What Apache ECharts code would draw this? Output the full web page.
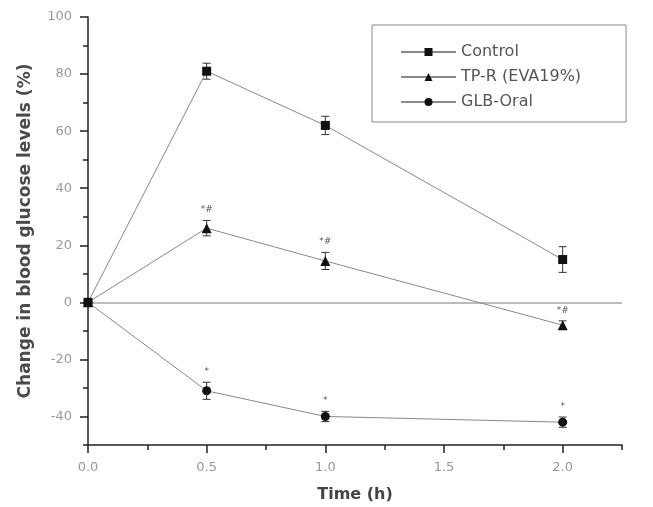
<!DOCTYPE html>
<html>
<head>
<meta charset="utf-8">
<script src="https://cdn.jsdelivr.net/npm/echarts@6/dist/echarts.min.js"></script>
<style>
  html, body { margin: 0; padding: 0; background: #fff; }
  #chart { width: 653px; height: 507px; }
</style>
</head>
<body>
<div id="chart"></div>
<script>
// time points (h)
const times = [0, 0.5, 1.0, 2.0];

// % change in blood glucose
const control = [0, 81, 62, 15];
const controlErr = [0, 2.8, 3.2, 4.5];

const tpr = [0, 26, 14.5, -8];
const tprErr = [0, 2.7, 3, 1.5];
const tprNotes = ['', '*#', '*#', '*#'];

const glb = [0, -31, -40, -42];
const glbErr = [0, 3, 1.8, 1.8];
const glbNotes = ['', '*', '*', '*'];

const seriesNames = ['Control', 'TP-R (EVA19%)', 'GLB-Oral'];

const xTicks = [0, 0.5, 1.0, 1.5, 2.0];
const xMinorTicks = [0.25, 0.75, 1.25, 1.75, 2.25];
const yTicks = [-40, -20, 0, 20, 40, 60, 80, 100];
const yMinorTicks = [-50, -30, -10, 10, 30, 50, 70, 90];

const chart = echarts.init(document.getElementById('chart'));

const font = 'DejaVu Sans';
const axisColor = '#222';

function pairs(ys, errs) {
	return times.map((t, i) => [t, ys[i], errs[i]]);
}

// error bars + significance marks, placed through the axis scales
function errorSeries(ys, errs, notes) {
	return {
		type: 'custom',
		data: pairs(ys, errs),
		encode: { x: 0, y: 1 },
		clip: false,
		z: 3,
		renderItem: function (params, api) {
			const x = api.value(0);
			const y = api.value(1);
			const e = api.value(2);
			const children = [];
			if (e > 0) {
				const top = api.coord([x, y + e]);
				const bot = api.coord([x, y - e]);
				const style = { stroke: '#333', lineWidth: 1 };
				children.push({ type: 'line', shape: { x1: top[0], y1: top[1], x2: bot[0], y2: bot[1] }, style: style });
				children.push({ type: 'line', shape: { x1: top[0] - 4, y1: top[1], x2: top[0] + 4, y2: top[1] }, style: style });
				children.push({ type: 'line', shape: { x1: bot[0] - 4, y1: bot[1], x2: bot[0] + 4, y2: bot[1] }, style: style });
				const note = notes ? notes[params.dataIndex] : '';
				if (note) {
					children.push({
						type: 'text',
						style: {
							text: note, x: top[0], y: top[1] - 6,
							align: 'center', verticalAlign: 'bottom',
							fill: '#555', font: '9px ' + font
						}
					});
				}
			}
			return { type: 'group', children: children };
		}
	};
}

function lineSeries(name, ys, symbol) {
	return {
		name: name,
		type: 'line',
		data: times.map((t, i) => [t, ys[i]]),
		symbol: symbol,
		symbolSize: symbol === 'triangle' ? 10 : 9,
		showAllSymbol: true,
		lineStyle: { color: '#8a8a8a', width: 1 },
		itemStyle: { color: '#111' },
		z: 4
	};
}

const option = {
	animation: false,
	backgroundColor: '#fff',
	grid: { left: 88, right: 31, top: 17, bottom: 62, containLabel: false, outerBoundsMode: 'none' },
	legend: {
		data: seriesNames,
		orient: 'vertical',
		left: 372,
		top: 25,
		padding: [19, 45, 12, 28],
		itemWidth: 55,
		itemHeight: 10,
		itemGap: 9,
		borderColor: '#888',
		borderWidth: 1,
		textStyle: { fontFamily: font, fontSize: 16, color: '#555', lineHeight: 16 }
	},
	xAxis: [
		{
			type: 'value',
			min: 0,
			max: 2.25,
			name: 'Time (h)',
			nameLocation: 'middle',
			nameGap: 42,
			nameTextStyle: { fontFamily: font, fontSize: 16, fontWeight: 'bold', color: '#444' },
			splitLine: { show: false },
			axisLine: { onZero: false, lineStyle: { color: axisColor, width: 1.5 } },
			axisTick: { customValues: xTicks, length: 8, inside: false, lineStyle: { color: axisColor, width: 1.5 } },
			axisLabel: {
				customValues: xTicks,
				formatter: v => v.toFixed(1),
				margin: 16,
				fontFamily: font, fontSize: 13, color: '#999'
			}
		},
		{
			type: 'value',
			min: 0,
			max: 2.25,
			position: 'bottom',
			splitLine: { show: false },
			axisLine: { show: false, onZero: false },
			axisLabel: { show: false },
			axisTick: { customValues: xMinorTicks, length: 5, lineStyle: { color: axisColor, width: 1.5 } }
		}
	],
	yAxis: [
		{
			type: 'value',
			min: -50,
			max: 100,
			name: 'Change in blood glucose levels (%)',
			nameLocation: 'middle',
			nameGap: 54,
			nameTextStyle: { fontFamily: font, fontSize: 17, fontWeight: 'bold', color: '#4a4a4a' },
			splitLine: { show: false },
			axisLine: { onZero: false, lineStyle: { color: axisColor, width: 1.5 } },
			axisTick: { customValues: yTicks, length: 8, lineStyle: { color: axisColor, width: 1.5 } },
			axisLabel: {
				customValues: yTicks,
				margin: 16,
				fontFamily: font, fontSize: 13, color: '#999'
			}
		},
		{
			type: 'value',
			min: -50,
			max: 100,
			position: 'left',
			splitLine: { show: false },
			axisLine: { show: false, onZero: false },
			axisLabel: { show: false },
			axisTick: { customValues: yMinorTicks, length: 5, lineStyle: { color: axisColor, width: 1.5 } }
		}
	],
	series: [
		Object.assign(lineSeries(seriesNames[0], control, 'rect'), {
			markLine: {
				silent: true,
				symbol: 'none',
				label: { show: false },
				lineStyle: { color: '#bbb', width: 2, type: 'solid' },
				data: [{ yAxis: 0 }],
				z: 1
			}
		}),
		lineSeries(seriesNames[1], tpr, 'triangle'),
		lineSeries(seriesNames[2], glb, 'circle'),
		errorSeries(control, controlErr, null),
		errorSeries(tpr, tprErr, tprNotes),
		errorSeries(glb, glbErr, glbNotes)
	]
};

chart.setOption(option);

window.addEventListener('resize', () => {
	chart.resize();
});
</script>
</body>
</html>
